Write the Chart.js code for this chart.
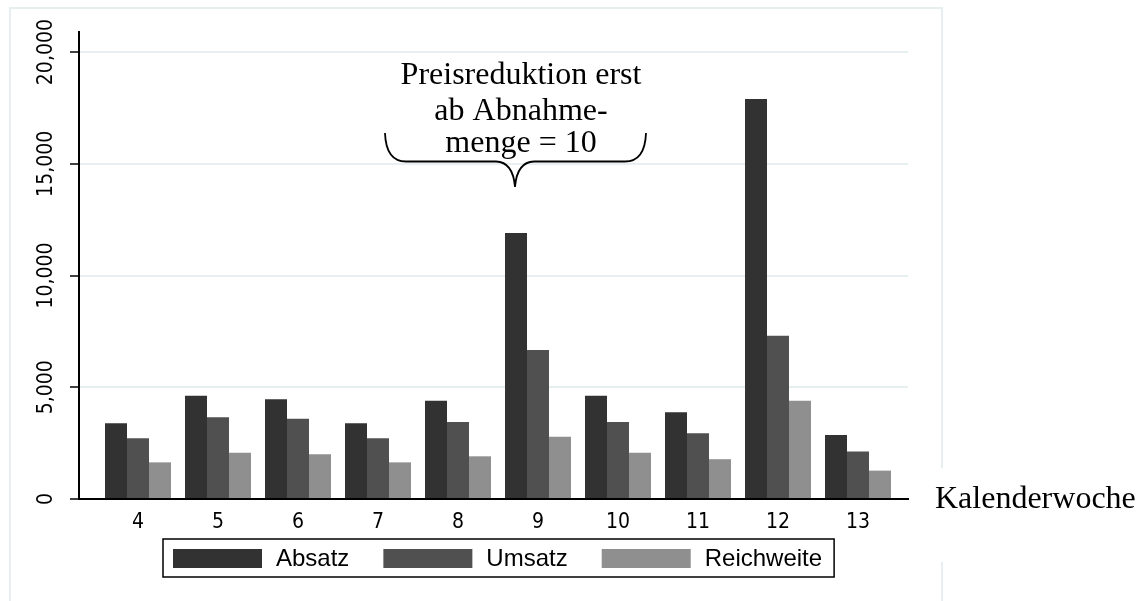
<!DOCTYPE html>
<html>
<head>
<meta charset="utf-8">
<script src="https://cdn.jsdelivr.net/npm/chart.js@4.4.1/dist/chart.umd.min.js"></script>
<style>
  html, body { margin: 0; padding: 0; background: #fff; overflow: hidden; }
</style>
</head>
<body>
<canvas id="chart" width="1138" height="601"></canvas>
<script>
// week numbers on the x axis
const weeks = [4, 5, 6, 7, 8, 9, 10, 11, 12, 13];

// values
const absatz = [3390, 4620, 4460, 3390, 4400, 11900, 4620, 3880, 17900, 2860];
const umsatz = [2720, 3660, 3590, 2720, 3450, 6670, 3450, 2940, 7310, 2130];
const reichweite = [1640, 2070, 2000, 1640, 1910, 2790, 2070, 1780, 4400, 1270];

const yTicks = [0, 5000, 10000, 15000, 20000];

const seriesNames = ["Absatz", "Umsatz", "Reichweite"];
const seriesColors = ["#323232", "#505050", "#8f8f8f"];

const noteLines = ["Preisreduktion erst", "ab Abnahme-", "menge = 10"];
const xTitle = "Kalenderwoche";

const SANS = '"Liberation Sans", Arial, sans-serif';
const NARROW = '"DejaVu Sans Condensed", "Liberation Sans", sans-serif';
const SERIF = '"Liberation Serif", "Times New Roman", serif';

const toPoints = (values) => weeks.map((w, i) => ({ x: w, y: values[i] }));

const datasets = [absatz, umsatz, reichweite].map((values, i) => ({
  label: seriesNames[i],
  data: toPoints(values),
  backgroundColor: seriesColors[i],
  borderWidth: 0,
  categoryPercentage: 0.825,
  barPercentage: 1,
}));

// light outer frame like the stata graph region
const framePlugin = {
  id: "frame",
  beforeDraw(chart) {
    const { ctx } = chart;
    ctx.save();
    ctx.strokeStyle = "#e6eef0";
    ctx.lineWidth = 2;
    ctx.beginPath();
    ctx.moveTo(10, 640);
    ctx.lineTo(10, 8);
    ctx.lineTo(942, 8);
    ctx.lineTo(942, 468);
    ctx.moveTo(942, 562);
    ctx.lineTo(942, 640);
    ctx.stroke();
    ctx.restore();
  },
};

// boxed legend, one row
const boxLegend = {
  id: "boxLegend",
  afterDraw(chart) {
    const { ctx } = chart;
    const top = 539, h = 38, left = 163;
    const swW = 89, swH = 19;
    ctx.save();
    ctx.font = "24px " + SANS;
    ctx.textBaseline = "middle";
    ctx.textAlign = "left";
    let x = left + 10;
    chart.data.datasets.forEach((ds, i) => {
      ctx.fillStyle = ds.backgroundColor;
      ctx.fillRect(x, top + 10, swW, swH);
      x += swW + 14;
      ctx.fillStyle = "#000";
      ctx.fillText(ds.label, x, top + h / 2 + 1);
      x += ctx.measureText(ds.label).width;
      if (i < chart.data.datasets.length - 1) x += 34;
    });
    ctx.strokeStyle = "#000";
    ctx.lineWidth = 1.5;
    ctx.strokeRect(left, top, x + 12 - left, h);
    ctx.restore();
  },
};

// curly brace note and the axis title on the right
const notePlugin = {
  id: "note",
  afterDraw(chart) {
    const { ctx, chartArea } = chart;
    ctx.save();
    ctx.fillStyle = "#000";
    ctx.font = "32px " + SERIF;
    ctx.textAlign = "center";
    ctx.textBaseline = "alphabetic";
    const baselines = [84, 120, 152];
    noteLines.forEach((line, i) => ctx.fillText(line, 521, baselines[i]));

    ctx.strokeStyle = "#000";
    ctx.lineWidth = 1.8;
    ctx.beginPath();
    ctx.moveTo(385, 133);
    ctx.quadraticCurveTo(386, 161.5, 406, 161.5);
    ctx.lineTo(496, 161.5);
    ctx.quadraticCurveTo(513, 162, 515, 187);
    ctx.quadraticCurveTo(517, 162, 534, 161.5);
    ctx.lineTo(625, 161.5);
    ctx.quadraticCurveTo(645, 161.5, 646, 133);
    ctx.stroke();

    ctx.textAlign = "left";
    ctx.textBaseline = "middle";
    ctx.fillText(xTitle, 935, chartArea.bottom + 1);
    ctx.restore();
  },
};

new Chart(document.getElementById("chart"), {
  type: "bar",
  data: { datasets },
  options: {
    responsive: false,
    animation: false,
    events: [],
    layout: { padding: { left: 10, top: 32, right: 230, bottom: 62 } },
    plugins: {
      legend: { display: false },
      tooltip: { enabled: false },
    },
    scales: {
      x: {
        type: "linear",
        offset: false,
        min: 3.2625,
        max: 13.625,
        afterBuildTicks: (scale) => {
          scale.ticks = weeks.map((value) => ({ value }));
        },
        afterFit: (scale) => {
          scale.height = 40;
        },
        grid: { display: false, offset: false },
        border: { display: true, color: "#000", width: 2 },
        ticks: {
          padding: 3,
          color: "#000",
          font: { family: NARROW, size: 21 },
          maxRotation: 0,
          autoSkip: false,
        },
      },
      y: {
        min: 0,
        max: 20900,
        afterBuildTicks: (scale) => {
          scale.ticks = yTicks.map((value) => ({ value }));
        },
        afterFit: (scale) => {
          scale.width = 69;
        },
        grid: {
          color: "#e8eff1",
          lineWidth: 2,
          tickColor: "#000",
          tickLength: 9,
          tickWidth: 1.5,
        },
        border: { display: true, color: "#000", width: 2 },
        ticks: {
          minRotation: 90,
          maxRotation: 90,
          crossAlign: "center",
          padding: -10,
          color: "#000",
          font: { family: NARROW, size: 21 },
          callback: (v) => v.toLocaleString("en-US"),
        },
      },
    },
  },
  plugins: [framePlugin, boxLegend, notePlugin],
});
</script>
</body>
</html>
